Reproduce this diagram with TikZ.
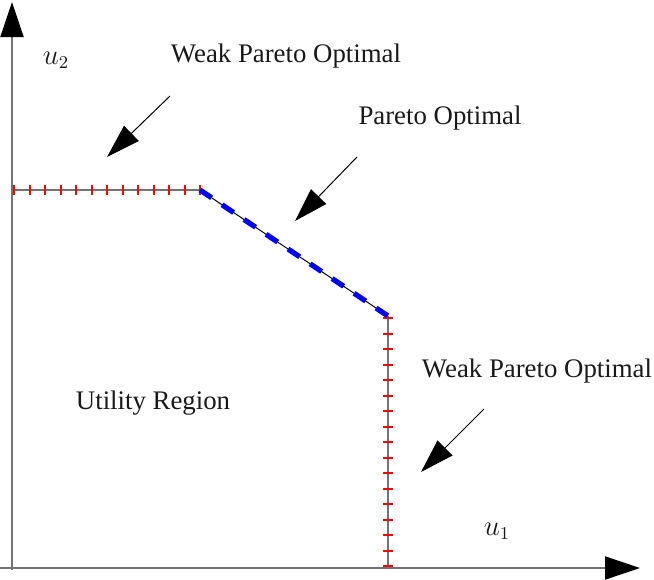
\documentclass[tikz,border=0pt]{standalone}
\usepackage{fontspec}
\setmainfont{Liberation Serif}
\usetikzlibrary{arrows.meta}
\begin{document}
\begin{tikzpicture}[x=0.5pt,y=-0.5pt,
  axis/.style={draw=black!55,line width=1pt,-{Triangle[length=17.5pt,width=11.5pt,black]}},
  callout/.style={draw=black,line width=0.5pt,-{Triangle[length=17pt,width=10.5pt]}},
  frontgrey/.style={draw=black!55,line width=1pt},
  redticks/.style={draw=red,line width=5pt,dash pattern=on 1pt off 6.75pt},
  bluedash/.style={draw=blue,line width=2.6pt,dash pattern=on 7pt off 6.25pt},
  lbl/.style={inner sep=0pt,font=\fontsize{13.4}{16}\selectfont,text=black!90}]
\useasboundingbox (0,0) rectangle (654,579);
% axes
\coordinate (yb) at (12,570);
\coordinate (yt) at (12,2);
\coordinate (xl) at (0,568);
\coordinate (xr) at (640,568);
\draw[axis] (yb) -- (yt);
\draw[axis] (xl) -- (xr);
% frontier
\coordinate (A) at (12,190);
\coordinate (B) at (200,190);
\coordinate (C) at (388,316);
\coordinate (D) at (388,568);
\draw[frontgrey] (A) -- (B);
\draw[frontgrey] (C) -- (D);
\coordinate (t1) at (13.3,190);
\coordinate (t2) at (202,190);
\coordinate (t3) at (388,317.3);
\coordinate (t4) at (388,568);
\draw[redticks] (t1) -- (t2);
\draw[redticks] (t3) -- (t4);
\draw[line width=0.5pt] (B) -- (C);
\draw[bluedash] (B) -- (C);
% labels
\node[lbl] (wpo1) at (286,56) {Weak Pareto Optimal};
\node[lbl] (po) at (440,118) {Pareto Optimal};
\node[lbl] (wpo2) at (537,371) {Weak Pareto Optimal};
\node[lbl] (ur) at (153,403) {Utility Region};
\node[lbl] (u2) at (56,60) {$u_2$};
\node[lbl] (u1) at (497,531) {$u_1$};
% callout arrows
\coordinate (s1) at (170,96);
\coordinate (e1) at (107,157);
\coordinate (s2) at (357,157);
\coordinate (e2) at (295,221);
\coordinate (s3) at (484,409);
\coordinate (e3) at (421,472);
\draw[callout] (s1) -- (e1);
\draw[callout] (s2) -- (e2);
\draw[callout] (s3) -- (e3);
\end{tikzpicture}
\end{document}
